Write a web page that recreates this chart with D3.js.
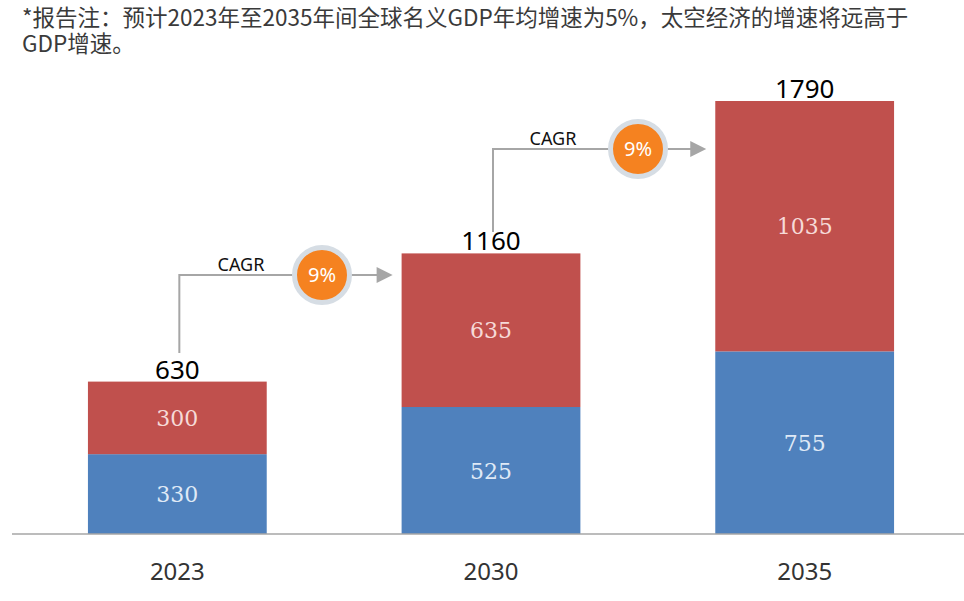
<!DOCTYPE html>
<html><head><meta charset="utf-8">
<script src="https://cdn.jsdelivr.net/npm/d3@7"></script>
<style>
html,body{margin:0;padding:0;background:#fff;}
svg{display:block;}
</style></head>
<body>
<svg id="c" width="964" height="601"></svg>
<script>
const categories = ["2023", "2030", "2035"];
const blueValues = [330, 525, 755];
const redValues = [300, 635, 1035];
const totals = [630, 1160, 1790];
const cagrLabels = ["9%", "9%"];
const noteLines = ["*报告注：预计2023年至2035年间全球名义GDP年均增速为5%，太空经济的增速将远高于", "GDP增速。"];

const svg = d3.select("#c");
const font = "'Noto Sans', 'Noto Sans CJK SC', sans-serif";
const serif = "'DejaVu Serif', 'Liberation Serif', serif";

const x = d3.scaleBand().domain(categories).range([20.5, 961.5]).paddingInner(0.43).paddingOuter(0.215);
const y = d3.scaleLinear().domain([0, 1790]).range([534, 101]);

// note text (one text element, two lines)
const note = svg.append("text").attr("font-family", "'Noto Sans CJK SC', sans-serif")
  .attr("font-size", 22.5).attr("fill", "#3a3a3a");
note.selectAll("tspan").data(noteLines).join("tspan")
  .attr("x", 22).attr("y", (d,i)=>26 + i*25.5).text(d=>d);

// bars
const stackData = categories.map((c,i)=>({c, blue: blueValues[i], red: redValues[i], total: totals[i]}));
const g = svg.append("g");
g.selectAll("rect.blue").data(stackData).join("rect").attr("class","blue")
  .attr("x", d=>x(d.c)).attr("width", x.bandwidth())
  .attr("y", d=>y(d.blue)).attr("height", d=>y(0)-y(d.blue)).attr("fill", "#4F81BD");
g.selectAll("rect.red").data(stackData).join("rect").attr("class","red")
  .attr("x", d=>x(d.c)).attr("width", x.bandwidth())
  .attr("y", d=>y(d.blue+d.red)).attr("height", d=>y(d.blue)-y(d.blue+d.red)).attr("fill", "#C0504D");

// inner labels
g.selectAll("text.bl").data(stackData).join("text").attr("class","bl")
  .attr("x", d=>x(d.c)+x.bandwidth()/2).attr("y", d=>(y(0)+y(d.blue))/2 + 8)
  .attr("text-anchor","middle").attr("font-family", serif).attr("font-size", 22)
  .attr("fill", "#dfe9f6").text(d=>d.blue);
g.selectAll("text.rl").data(stackData).join("text").attr("class","rl")
  .attr("x", d=>x(d.c)+x.bandwidth()/2).attr("y", d=>(y(d.blue)+y(d.blue+d.red))/2 + 8)
  .attr("text-anchor","middle").attr("font-family", serif).attr("font-size", 22)
  .attr("fill", "#f6dad8").text(d=>d.red);
// totals
g.selectAll("text.tl").data(stackData).join("text").attr("class","tl")
  .attr("x", d=>x(d.c)+x.bandwidth()/2).attr("y", d=>y(d.total) - 3)
  .attr("text-anchor","middle").attr("font-family", font).attr("font-size", 26)
  .attr("fill", "#000").text(d=>d.total);

// axis
const axis = d3.axisBottom(x).tickSize(0).tickPadding(0);
const ag = svg.append("g").attr("transform", `translate(0,${y(0)})`).call(axis);
ag.select(".domain").remove();
ag.selectAll("text").attr("dy", null).attr("y", 46).attr("font-family", font).attr("font-size", 24).attr("fill", "#333");
svg.append("line").attr("x1", 12).attr("x2", 964).attr("y1", y(0)).attr("y2", y(0))
  .attr("stroke", "#a6a6a6").attr("stroke-width", 1.5);

// CAGR connectors
const ann = [
  {from: 0, to: 1, hy: 275, vBottom: 353, cx: 322, tx: 241, label: cagrLabels[0]},
  {from: 1, to: 2, hy: 149, vBottom: 232, cx: 638, tx: 553, label: cagrLabels[1]}
];
const ag2 = svg.append("g");
ann.forEach(a=>{
  const sx = x(categories[a.from]) + x.bandwidth()/2 + 2;
  const ex = x(categories[a.to]) - 9;
  ag2.append("path").attr("d", `M${sx},${a.vBottom}V${a.hy}H${ex-15}`)
    .attr("fill","none").attr("stroke","#a6a6a6").attr("stroke-width",2);
  ag2.append("path").attr("d", `M${ex},${a.hy}L${ex-16},${a.hy-8}L${ex-16},${a.hy+8}Z`).attr("fill","#a6a6a6");
  ag2.append("circle").attr("cx", a.cx).attr("cy", a.hy).attr("r", 27.5).attr("fill","#f58220")
    .attr("stroke","#d6dde4").attr("stroke-width",5);
  ag2.append("text").attr("x", a.cx).attr("y", a.hy+7).attr("text-anchor","middle")
    .attr("font-family", font).attr("font-size", 20).attr("fill","#fff").text(a.label);
  ag2.append("text").attr("x", a.tx).attr("y", a.hy-4).attr("text-anchor","middle")
    .attr("font-family", font).attr("font-size", 18).attr("fill","#111").text("CAGR");
});
</script>
</body></html>
